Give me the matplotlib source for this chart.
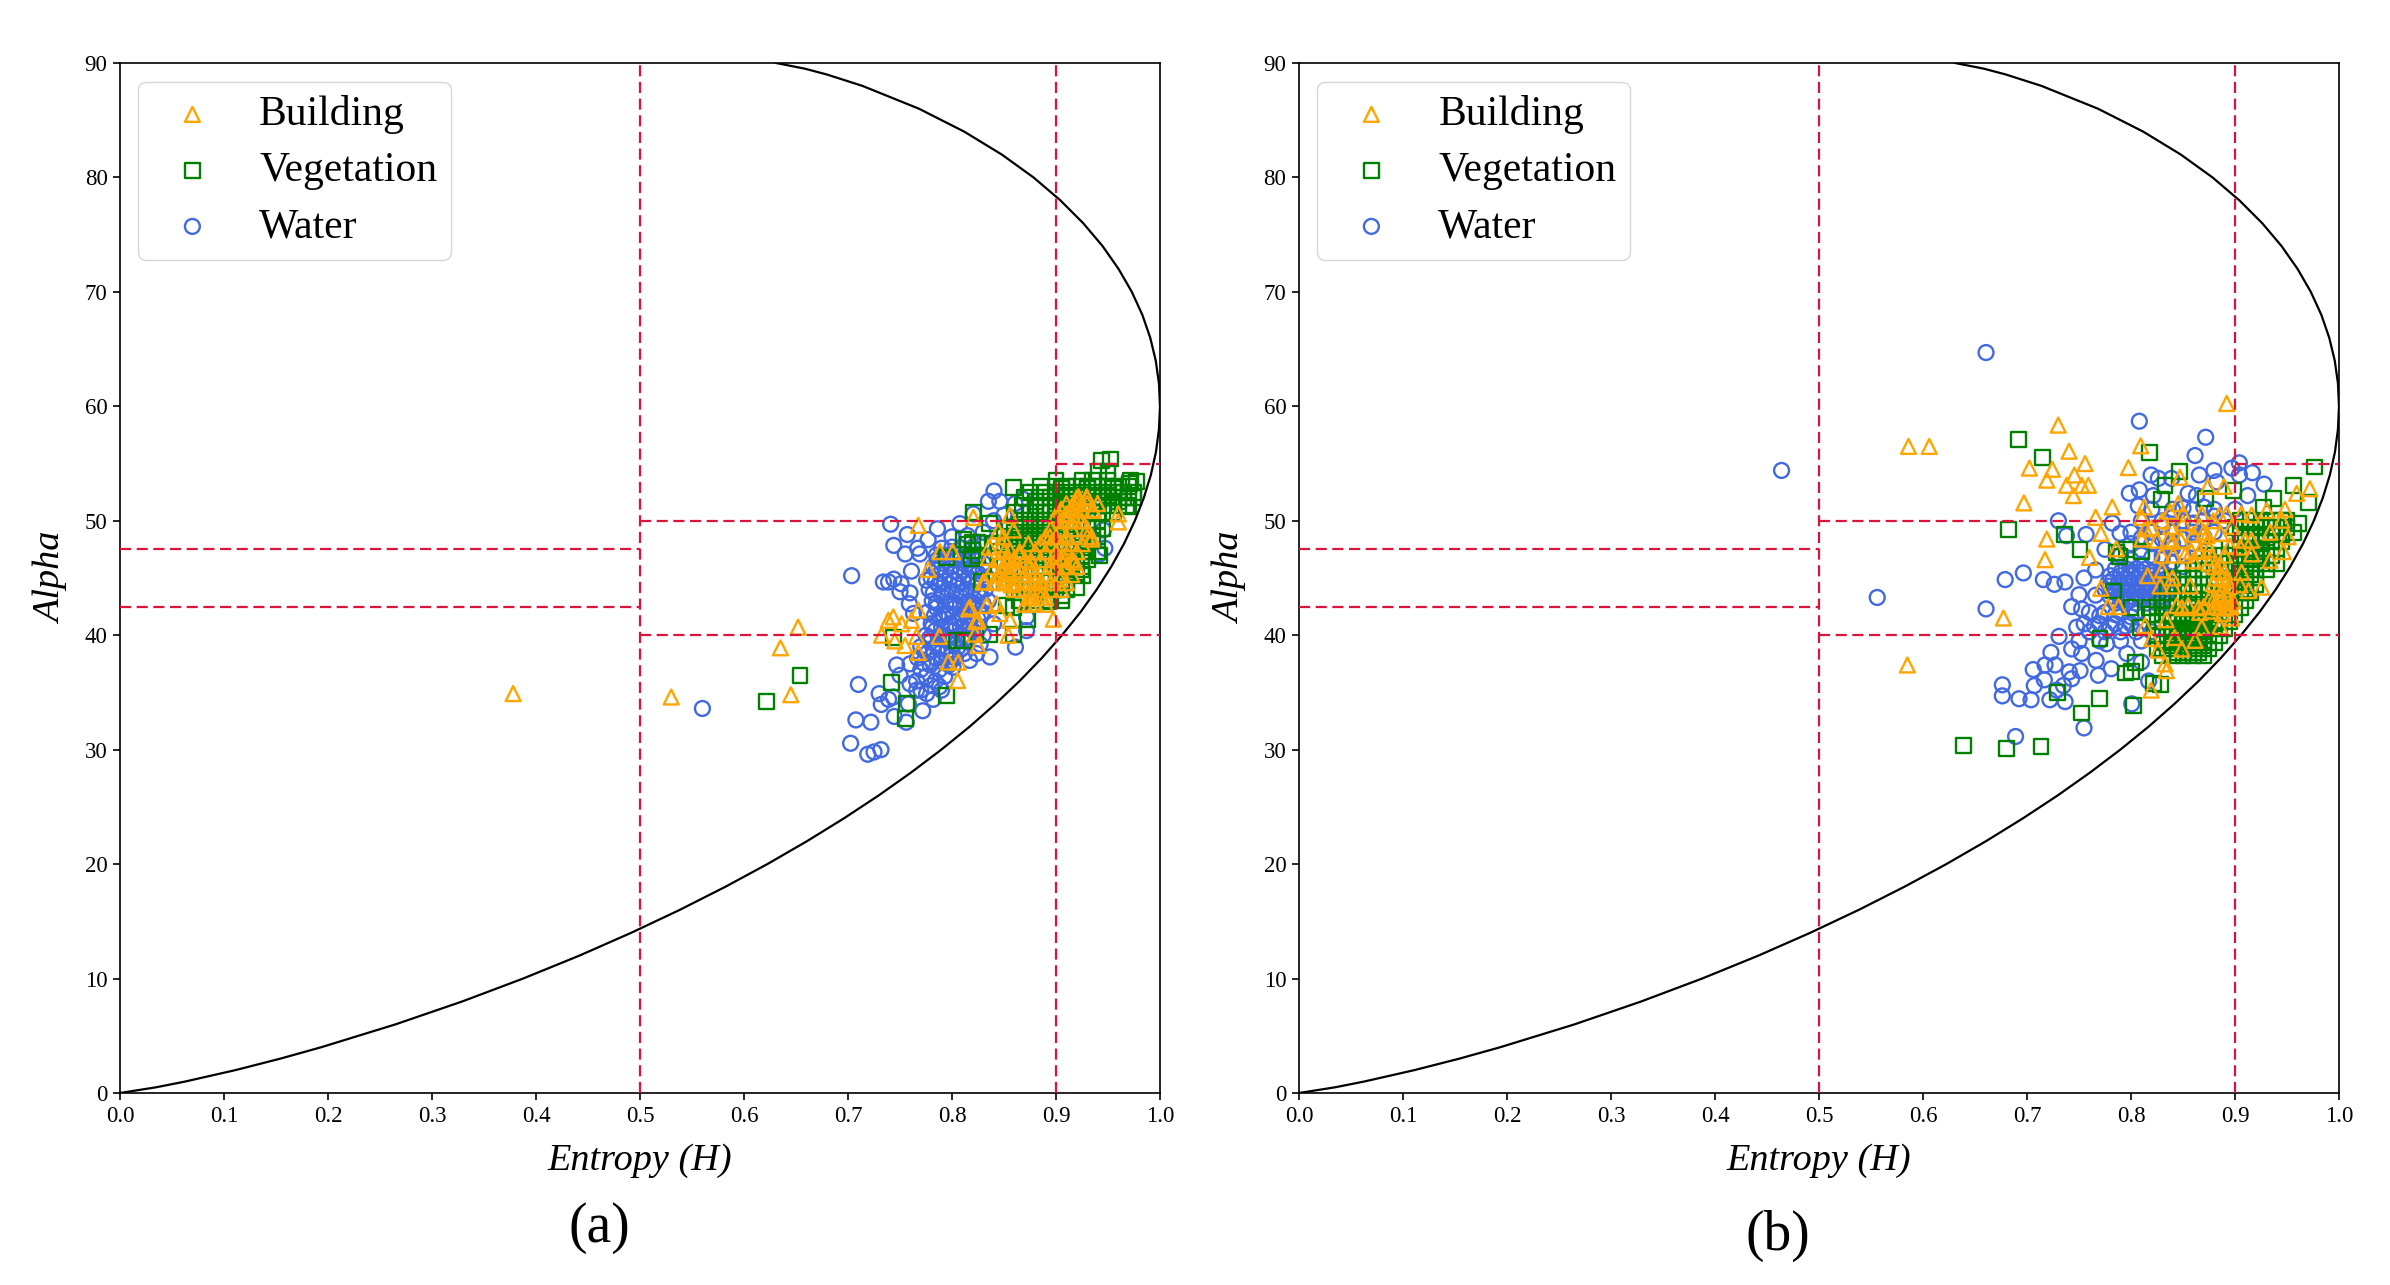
import matplotlib
matplotlib.use("Agg")
import matplotlib.pyplot as plt

plt.rcParams['font.family'] = ['Liberation Serif', 'DejaVu Serif']
plt.rcParams['mathtext.fontset'] = 'dejavuserif'

# boundary curve of the H-alpha plane
curve_alpha = [0,.5,1,2,3,4,6,8,10,12,14,16,18,20,22,24,26,28,30,32,34,36,38,40,42,44,46,48,50,52,54,56,58,60,62,64,66,68,70,72,74,76,78,80,82,84,86,88,89,89.5,90]
curve_H = [0,.0348,.0626,.1110,.1541,.1935,.2650,.3291,.3876,.4416,.4916,.5382,.5817,.6224,.6605,.6961,.7295,.7606,.7897,.8168,.8418,.8650,.8863,.9057,.9234,.9392,.9532,.9654,.9758,.9844,.9912,.9961,.9990,1.0,.9990,.9959,.9906,.9830,.9729,.9602,.9448,.9262,.9042,.8784,.8479,.8118,.7684,.7139,.6795,.6587,.6309]

# zone borders: (H0, H1, alpha)
zone_h = [(0,.5,42.5),(0,.5,47.5),(.5,1,40),(.5,.9,50),(.9,1,55)]
zone_v = [.5,.9]

water_a = [(.56,33.6),(.7035,45.2),(.741,49.7),(.757,48.8),(.744,47.85),(.755,47.1),(.767,47.6),(.777,48.35),(.786,49.3),(.8076,49.75),(.734,44.65),(.744,44.9),(.739,44.65),(.751,44.5),(.75,43.8),(.7596,43.7),(.761,45.6),(.769,47.1),(.7756,44.8),(.759,42.75),(.763,41.9),(.71,35.7),(.73,34.9),(.732,33.95),(.739,34.4),(.7435,34.6),(.7445,32.9),(.7076,32.6),(.722,32.4),(.7025,30.56),(.719,29.6),(.725,29.8),(.7317,30),(.756,32.4),(.7718,33.4),(.758,34),(.782,34.4),(.7468,37.4),(.7596,37.5),(.75,36.5),(.7596,35.75),(.766,35.2),(.7756,34.9),(.788,35.5),(.801,37.2),(.817,37.8),(.8365,38.1),(.861,38.96),(.8237,38.4),(.827,39.2),(.8717,40.4),(.8717,41.6),(.8404,52.6),(.835,51.7),(.846,51.7),(.868,51.9),(.8605,51.5),(.8205,50.6),(.9455,49.2),(.942,47.1),(.947,47.6),
(.785,47),(.795,47),(.805,47),(.815,47),(.825,47),(.79,47.6),(.80,47.7),(.81,47.6),(.82,47.7),(.83,48),(.80,48.6),(.815,48.7),(.83,49),(.84,50),(.85,50.5),
(.782,46),(.79,46.3),(.80,46),(.81,46.3),(.82,46),(.83,46.3),(.78,45),(.789,45.4),(.798,45),(.807,45.4),(.816,45),(.825,45.4),(.834,45),(.778,44),(.787,44.4),(.796,44),(.805,44.4),(.814,44),(.823,44.4),(.832,44),(.781,43),(.79,43.4),(.799,43),(.808,43.4),(.817,43),(.826,43.4),(.835,43),(.776,42),(.785,42.4),(.794,42),(.803,42.4),(.812,42),(.821,42.4),(.83,42),(.78,41),(.789,41.4),(.798,41),(.807,41.4),(.816,41),(.825,41.4),(.84,41),(.775,40),(.784,40.4),(.793,40),(.802,40.4),(.811,40),(.82,40.4),(.83,40),(.77,39),(.779,39.4),(.788,39),(.797,39.4),(.806,39),(.815,39.4),(.767,38),(.776,38.4),(.785,38),(.794,38.4),(.803,38),(.812,38.4),(.77,37),(.779,37.4),(.788,37),(.797,37.4),(.766,36),(.775,36.4),(.784,36),(.793,36.4),(.77,35.2),(.78,35.6),(.79,35.2),
(.786,46.6),(.795,46.5),(.804,46.6),(.813,46.5),(.822,46.6),(.785,45.7),(.794,45.7),(.803,45.6),(.812,45.7),(.821,45.6),(.83,45.7),(.784,44.7),(.793,44.7),(.802,44.8),(.811,44.7),(.82,44.8),(.829,44.7),(.782,43.7),(.791,43.7),(.80,43.8),(.809,43.7),(.818,43.8),(.827,43.7),(.785,42.8),(.794,42.7),(.803,42.8),(.812,42.7),(.821,42.8),(.83,42.7),(.783,41.7),(.792,41.7),(.801,41.7),(.81,41.8),(.819,41.7),(.828,41.8),(.781,40.7),(.79,40.7),(.799,40.8),(.808,40.7),(.817,40.8),(.826,40.7),(.778,39.7),(.787,39.7),(.796,39.8),(.805,39.7),(.814,39.8),(.773,38.7),(.782,38.7),(.791,38.8),(.80,38.7),(.809,38.8),(.772,37.6),(.781,37.7),(.79,37.7),(.799,37.8)]

veg_a = [(.6538,36.5),(.622,34.2),(.859,52.9),(.821,50.7),(.836,49.75),(.811,48.4),(.82,48.15),(.825,48.15),(.819,46.7),(.795,46.8),(.8285,44.7),(.7435,39.8),(.804,39.5),(.811,39.5),(.8365,40.1),(.859,40.1),(.873,41.4),(.859,42.45),(.8525,42.6),(.892,42.9),(.905,43.5),(.92,44.2),(.926,45.2),(.942,47),(.95,54.3),(.944,55.3),(.952,55.4),(.9407,54.3),(.9775,53.4),(.971,53.25),(.9695,51.2),(.9743,52),(.742,35.9),(.756,34),(.755,32.7),(.795,34.7),(.82,47.4),(.825,47),(.815,47.9),
(.90,53.5),(.925,53.5),(.935,53.5),(.95,53.5),(.972,53.5),(.885,53),(.90,53),(.91,53),(.92,53),(.93,53),(.94,53),(.95,53),(.96,53),(.97,53),(.875,52.5),(.89,52.5),(.90,52.5),(.915,52.5),(.925,52.5),(.935,52.5),(.945,52.5),(.955,52.5),(.965,52.5),(.975,52.5),(.87,52),(.885,52),(.895,52),(.905,52),(.915,52),(.925,52),(.935,52),(.945,52),(.955,52),(.965,52),(.97,52),(.868,51.3),(.88,51.3),(.89,51.3),(.90,51.3),(.91,51.3),(.92,51.3),(.93,51.3),(.94,51.3),(.95,51.3),(.96,51.3),(.968,51.3),(.86,50.7),(.875,50.7),(.885,50.7),(.895,50.7),(.905,50.7),(.915,50.7),(.925,50.7),(.935,50.7),(.945,50.7),(.955,50.7),(.87,50),(.88,50),(.89,50),(.90,50),(.91,50),(.92,50),(.93,50),(.94,50),(.855,49.3),(.865,49.3),(.875,49.3),(.885,49.3),(.895,49.3),(.905,49.3),(.915,49.3),(.925,49.3),(.935,49.3),(.945,49.3),(.85,48.6),(.86,48.6),(.87,48.6),(.88,48.6),(.89,48.6),(.90,48.6),(.91,48.6),(.92,48.6),(.93,48.6),(.94,48.6),(.84,48),(.85,48),(.86,48),(.87,48),(.88,48),(.89,48),(.90,48),(.91,48),(.92,48),(.93,48),(.845,47.3),(.855,47.3),(.865,47.3),(.875,47.3),(.885,47.3),(.895,47.3),(.905,47.3),(.915,47.3),(.925,47.3),(.94,47.3),(.85,46.6),(.86,46.6),(.87,46.6),(.88,46.6),(.89,46.6),(.90,46.6),(.91,46.6),(.92,46.6),(.93,46.6),(.845,46),(.855,46),(.865,46),(.875,46),(.885,46),(.895,46),(.905,46),(.915,46),(.925,46),(.85,45.3),(.86,45.3),(.87,45.3),(.88,45.3),(.89,45.3),(.90,45.3),(.91,45.3),(.92,45.3),(.85,44.6),(.86,44.6),(.87,44.6),(.88,44.6),(.89,44.6),(.90,44.6),(.91,44.6),(.86,44),(.87,44),(.88,44),(.89,44),(.90,44),(.91,44),(.865,43),(.88,43),(.895,43),(.905,43),
(.905,52.8),(.93,52.8),(.955,52.8),(.91,52.2),(.93,52.2),(.95,52.2),(.96,51.7),(.94,51.7),(.92,51.7),(.90,51.7),(.88,51.7),(.865,49.7),(.875,49.7),(.885,49.7),(.895,49.7),(.91,49.7),(.93,49.7),(.86,49),(.87,49),(.88,49),(.89,49),(.90,49),(.855,48.3),(.865,48.3),(.875,48.3),(.885,48.3),(.895,48.3),(.925,48.3),(.935,48.3),(.86,47.7),(.87,47.7),(.88,47.7),(.89,47.7),(.90,47.7),(.915,47.7),(.93,47.7),(.87,47),(.88,47),(.89,47),(.91,46.9),(.925,46.9),(.905,46.3),(.915,46.3),(.925,45.7),(.91,45.7)]

bldg_a = [(.378,34.9),(.53,34.6),(.635,38.9),(.645,34.8),(.652,40.7),(.7676,49.6),(.8205,50.3),(.8557,50.5),(.8445,49.1),(.859,49.2),(.849,48.6),(.7884,47.3),(.8006,47.3),(.7772,45.75),(.8359,47.7),(.835,46.8),(.8317,44.65),(.843,44.65),(.8173,42.45),(.816,42.3),(.8333,42.6),(.843,42.75),(.825,41.3),(.823,41.2),(.846,41.9),(.8557,41.3),(.822,40.1),(.825,39.1),(.854,40),(.8974,41.4),(.7435,41.6),(.7387,41.3),(.7516,41),(.7676,42.2),(.761,41.3),(.7323,40),(.745,39.5),(.766,39.9),(.7548,39.1),(.7676,38.5),(.7878,39.9),(.7964,37.65),(.806,37.65),(.8054,36.04),(.9599,50.6),(.9599,49.9),(.9342,48.6),
(.92,52),(.93,52),(.91,51.5),(.92,51.5),(.93,51.5),(.94,51.5),(.905,51),(.915,51),(.925,51),(.935,51),(.90,50.5),(.91,50.5),(.92,50.5),(.905,50),(.915,50),(.925,50),(.895,49.3),(.905,49.3),(.915,49.3),(.93,49.3),(.89,48.6),(.90,48.6),(.91,48.6),(.93,48.6),(.885,48),(.895,48),(.905,48),(.915,48),(.925,48),(.85,47.3),(.865,47.3),(.88,47.3),(.89,47.3),(.90,47.3),(.92,47.3),(.845,46.6),(.855,46.6),(.87,46.6),(.885,46.6),(.90,46.6),(.905,46.6),(.915,46.6),(.84,46),(.85,46),(.86,46),(.875,46),(.90,46),(.91,46),(.92,46),(.845,45.3),(.855,45.3),(.87,45.3),(.88,45.3),(.89,45.3),(.905,45.3),(.915,45.3),(.84,44.6),(.85,44.6),(.86,44.6),(.87,44.6),(.88,44.6),(.885,44.6),(.895,44.6),(.91,44.6),(.86,44),(.875,44),(.885,44),(.895,44),(.905,44),(.875,43.3),(.885,43.3),(.89,43.3),(.87,42.7),(.88,42.7),(.89,42.7),
(.8558,47.4),(.8526,46.5),(.849,46),(.8734,48),(.8766,46.4),(.8654,45.7),(.8942,48.6),(.9038,49.2),(.9167,51.5),(.9295,52.1),(.9215,52.1),(.936,50.9),(.91,50.6),(.9343,48.4),(.918,50),(.91,47.7),(.918,46.4),(.907,46.8),(.894,46),(.904,44.9),(.886,44.65),(.875,44.65),(.857,44.4),(.83,44.65),(.865,44),(.8766,43.6),(.875,42.75),(.85,45),(.86,46.7),(.855,45.7),(.865,47),(.848,47.9)]

water_b = [(.464,54.4),(.556,43.3),(.808,58.7),(.6606,64.7),(.8718,57.3),(.8616,55.7),(.9042,55.06),(.8193,54),(.8263,53.7),(.839,53.7),(.8657,54),(.8798,54.4),(.897,54.6),(.9042,54),(.9167,54.2),(.928,53.2),(.8824,53.4),(.9122,52.2),(.7984,52.4),(.808,52.7),(.807,51.3),(.8215,52.2),(.855,52.4),(.863,52.2),(.7302,50),(.782,49.8),(.7568,48.8),(.738,48.7),(.7895,48.9),(.775,47.5),(.766,45.7),(.7548,45),(.7366,44.65),(.7263,44.45),(.7157,44.86),(.6965,45.44),(.679,44.86),(.6606,42.3),(.75,43.54),(.743,42.5),(.7526,42.3),(.766,43.5),(.7308,39.9),(.7478,40.7),(.723,38.5),(.743,38.8),(.7526,38.4),(.7664,37.8),(.7766,39.25),(.706,37),(.7173,37.4),(.727,37.4),(.7167,36.1),(.707,35.6),(.7407,36.8),(.751,36.9),(.7686,36.5),(.781,37.07),(.743,36.2),(.735,35.6),(.6763,35.67),(.6763,34.7),(.6923,34.45),(.7039,34.36),(.722,34.36),(.7366,34.2),(.7286,35.2),(.689,31.15),(.7548,31.9),(.8007,34),(.817,36),(.81,37.65),(.796,38.4),
(.785,45.8),(.795,45.8),(.805,45.8),(.815,45.8),(.825,45.8),(.78,45.2),(.79,45.2),(.80,45.2),(.81,45.2),(.82,45.2),(.83,45.2),(.778,44.6),(.788,44.6),(.798,44.6),(.808,44.6),(.818,44.6),(.828,44.6),(.775,44),(.785,44),(.795,44),(.805,44),(.815,44),(.825,44),(.835,44),(.78,43.4),(.79,43.4),(.80,43.4),(.81,43.4),(.82,43.4),(.83,43.4),(.785,42.8),(.795,42.8),(.805,42.8),(.815,42.8),(.825,42.8),(.835,42.8),(.79,47),(.81,47),(.83,47),(.85,47),(.80,48),(.82,48),(.84,48),(.86,48),(.80,49),(.82,49),(.84,49),(.86,49),(.88,49),(.81,50),(.83,50),(.85,50),(.87,50),(.89,50),(.82,51),(.84,51),(.86,51),(.88,51),(.90,51),(.76,42),(.775,42),(.79,42),(.805,42),(.755,41),(.77,41),(.785,41),(.80,41),(.76,40.3),(.775,40.3),(.79,40.3),(.805,40.3),(.82,40.3),(.75,39.5),(.77,39.5),(.79,39.5),(.81,39.5),
(.79,45.5),(.80,45.5),(.81,45.5),(.82,45.5),(.83,45.5),(.783,44.9),(.793,44.9),(.803,44.9),(.813,44.9),(.823,44.9),(.833,44.9),(.78,44.3),(.79,44.3),(.80,44.3),(.81,44.3),(.82,44.3),(.83,44.3),(.785,43.7),(.795,43.7),(.805,43.7),(.815,43.7),(.825,43.7),(.835,43.7),(.79,43.1),(.80,43.1),(.81,43.1),(.82,43.1),(.83,43.1),(.84,46.4),(.85,46),(.83,46.6),(.82,46.8),(.80,46.6),(.81,46.2),(.84,47.6),(.85,48.4),(.83,48.4),(.87,48.6),(.81,48.5),(.86,49.8),(.88,50.4),(.84,50.3),(.85,51.1),(.87,51.2),(.83,49.5),(.80,41.6),(.785,41.8),(.77,41.7),(.765,40.8),(.78,40.7),(.795,40.8),(.81,40.8)]

veg_b = [(.692,57.1),(.7148,55.5),(.8177,55.94),(.8465,54.28),(.9763,54.7),(.956,53.05),(.9705,51.56),(.937,51.94),(.8327,53.05),(.8295,51.86),(.8984,52.67),(.8718,51.94),(.927,51.2),(.961,49.75),(.956,49),(.682,49.23),(.736,48.8),(.751,47.5),(.786,47.2),(.7888,46.84),(.796,47.5),(.8103,47.3),(.783,43.86),(.80,42.46),(.8173,42.4),(.7702,39.7),(.8087,40.7),(.804,37.65),(.795,36.7),(.8007,36.8),(.8215,35.76),(.8286,35.67),(.7693,34.5),(.7295,35),(.7526,33.2),(.8023,33.86),(.6388,30.4),(.6805,30.13),(.7135,30.3),
(.905,50),(.915,50),(.925,50),(.935,50),(.945,50),(.95,50),(.90,49.4),(.91,49.4),(.92,49.4),(.93,49.4),(.94,49.4),(.95,49.4),(.905,48.8),(.915,48.8),(.925,48.8),(.935,48.8),(.945,48.8),(.905,48.2),(.915,48.2),(.925,48.2),(.935,48.2),(.945,48.2),(.88,47.6),(.90,47.6),(.91,47.6),(.92,47.6),(.93,47.6),(.94,47.6),(.875,47),(.885,47),(.895,47),(.905,47),(.915,47),(.925,47),(.935,47),(.87,46.3),(.88,46.3),(.89,46.3),(.90,46.3),(.91,46.3),(.92,46.3),(.93,46.3),(.94,46.3),(.85,45.7),(.86,45.7),(.87,45.7),(.88,45.7),(.89,45.7),(.90,45.7),(.91,45.7),(.92,45.7),(.93,45.7),(.84,45),(.85,45),(.86,45),(.87,45),(.88,45),(.89,45),(.90,45),(.91,45),(.92,45),(.84,44.4),(.85,44.4),(.86,44.4),(.87,44.4),(.88,44.4),(.89,44.4),(.90,44.4),(.91,44.4),(.92,44.4),(.835,43.7),(.845,43.7),(.855,43.7),(.865,43.7),(.875,43.7),(.885,43.7),(.895,43.7),(.905,43.7),(.915,43.7),(.83,43),(.84,43),(.85,43),(.86,43),(.87,43),(.88,43),(.89,43),(.90,43),(.91,43),(.825,42.4),(.835,42.4),(.845,42.4),(.855,42.4),(.865,42.4),(.875,42.4),(.885,42.4),(.895,42.4),(.905,42.4),(.82,41.8),(.83,41.8),(.84,41.8),(.85,41.8),(.86,41.8),(.87,41.8),(.88,41.8),(.89,41.8),(.90,41.8),(.825,41.2),(.835,41.2),(.845,41.2),(.855,41.2),(.865,41.2),(.875,41.2),(.885,41.2),(.895,41.2),(.83,40.6),(.84,40.6),(.85,40.6),(.86,40.6),(.87,40.6),(.88,40.6),(.89,40.6),(.825,40),(.835,40),(.845,40),(.855,40),(.865,40),(.875,40),(.885,40),(.83,39.4),(.84,39.4),(.85,39.4),(.86,39.4),(.87,39.4),(.88,39.4),(.825,38.8),(.835,38.8),(.845,38.8),(.855,38.8),(.865,38.8),(.875,38.8),(.83,38.2),(.84,38.2),(.85,38.2),(.86,38.2),(.87,38.2),
(.845,39.7),(.855,39.7),(.865,39.7),(.84,39.1),(.85,39.1),(.86,39.1),(.87,39.1),(.845,38.5),(.855,38.5),(.865,38.5),(.85,40.3),(.86,40.3),(.87,40.3),(.84,40.3),(.85,41),(.86,41),(.87,41),(.88,41),(.845,41.5),(.855,41.5),(.865,41.5),(.875,41.5),(.885,42),(.875,42),(.865,42),(.855,42.7),(.865,42.7),(.875,42.7),(.91,48.5),(.92,48.5),(.93,48.5),(.915,47.3),(.925,47.3),(.905,46.7),(.915,46.7),(.925,46.7),(.905,45.3),(.915,45.3),(.91,44.7),(.90,44),(.91,44)]

bldg_b = [(.585,37.4),(.586,56.5),(.606,56.5),(.892,60.25),(.73,58.36),(.7404,56.08),(.7558,55),(.7244,54.5),(.7023,54.6),(.719,53.55),(.7455,54),(.738,53.1),(.7526,53.1),(.759,53.1),(.7446,52.2),(.697,51.56),(.8093,56.55),(.7975,54.65),(.847,53.8),(.874,53),(.8895,53),(.9593,52.4),(.972,52.8),(.948,51),(.945,50.05),(.951,48.6),(.782,51.2),(.766,50.3),(.771,48.9),(.719,48.4),(.7173,46.6),(.76,46.8),(.6773,41.5),(.771,44.1),(.786,47.55),(.778,42.5),(.788,42.5),(.816,45.2),(.828,44.3),(.84,44.3),(.857,44.3),(.8135,40.85),(.8337,41.35),(.82,39.7),(.826,38.7),(.8327,37.5),(.834,36.9),(.8193,35.2),(.868,40.7),(.8856,40.77),(.8616,39.55),(.8488,38.8),(.842,39.8),(.897,41.5),(.9257,44.2),(.913,43.9),(.9337,46.55),(.9465,47.3),(.9337,49),(.9305,50.9),(.916,48.3),(.9096,48.3),(.916,47.1),(.9064,45.5),(.9048,44.4),
(.8127,51.2),(.8103,50.3),(.8135,49.3),(.8103,48.4),(.825,48.3),(.836,48.4),(.848,48.3),(.8295,47),(.8407,47),(.852,47),(.86,46.5),(.8455,51.5),(.8375,50.8),(.85,50.6),(.868,50.6),(.866,49.5),(.879,50),(.892,50.6),(.897,49.5),(.886,48.9),(.873,48),(.873,48.7),(.906,50.6),(.916,50.5),(.844,42.6),(.849,42.4),(.865,42.4),(.885,42.4),(.895,42.4),(.88,46),(.882,45),(.886,44.5),(.889,44),(.893,43.4),(.879,44.5),(.876,43.3),(.87,42.5),(.882,42.5),(.896,42.5),(.886,46.2),(.89,45.5),(.895,44.3),(.885,43.5),(.89,42.8),
(.858,47.3),(.866,47.3),(.875,46.3),(.84,48.2),(.87,49),(.85,49.8),(.83,50),(.82,49.4),(.875,47.5),(.878,46.8),(.884,45.6),(.888,45),(.892,44.8),(.88,43.2),(.886,42.9),(.893,42.4),(.898,43),(.877,42.1),(.888,41.9),(.866,42),(.855,42.6),(.89,47),(.895,47.8),(.905,47.7),(.86,48.8),(.838,49.5),(.885,50.5),(.84,45),(.83,45.7)]

orange, green, blue, red = 'orange', 'green', 'royalblue', 'crimson'
W, H_ = 2390, 1285
fig = plt.figure(figsize=(W/100, H_/100), dpi=100, facecolor='white')

def panel(left_px, water, veg, bldg):
    ax = fig.add_axes([left_px/W, (H_-1093)/H_, 1040/W, 1030/H_])
    kw = dict(s=115, linewidths=1.7, facecolors='none')
    ax.scatter(*zip(*water), marker='o', edgecolors=blue, label='Water', zorder=2, **kw)
    ax.scatter(*zip(*veg), marker='s', edgecolors=green, label='Vegetation', zorder=3, **kw)
    ax.scatter(*zip(*bldg), marker='^', edgecolors=orange, label='Building', zorder=4, **kw)
    ax.plot(curve_H, curve_alpha, color='black', lw=1.6, zorder=5)
    for h0, h1, a in zone_h:
        ax.plot([h0, h1], [a, a], color=red, lw=1.6, ls=(0, (5, 2.5)), zorder=6)
    for h in zone_v:
        ax.plot([h, h], [0, 90], color=red, lw=1.6, ls=(0, (5, 2.5)), zorder=6)
    ax.set_xlim(0, 1)
    ax.set_ylim(0, 90)
    ax.set_xticks([i/10 for i in range(11)])
    ax.set_yticks(range(0, 100, 10))
    ax.tick_params(labelsize=16.5, length=5, width=1.2, pad=4)
    for s in ax.spines.values():
        s.set_linewidth(1.2)
    ax.set_xlabel('Entropy (H)', fontsize=27.5, style='italic', va='center')
    ax.set_ylabel('Alpha', fontsize=27.5, style='italic', va='center')
    ax.xaxis.set_label_coords(0.5, -68/1030)
    ax.yaxis.set_label_coords(-68/1040, 0.5)
    handles, labels = ax.get_legend_handles_labels()
    ax.legend(handles[::-1], labels[::-1], loc='upper left',
              bbox_to_anchor=(18/1040, 1-19/1030), borderaxespad=0, fontsize=30,
              scatterpoints=1, handlelength=1.97, handletextpad=.62,
              borderpad=.32, labelspacing=.42, framealpha=.8, edgecolor='0.8')
    return ax

panel(120, water_a, veg_a, bldg_a)
panel(1299, water_b, veg_b, bldg_b)
fig.text(599/W, 1-1228/H_, '(a)', fontsize=40, ha='center', va='center')
fig.text(1778/W, 1-1236/H_, '(b)', fontsize=40, ha='center', va='center')
fig.savefig('out.png', dpi=100)
